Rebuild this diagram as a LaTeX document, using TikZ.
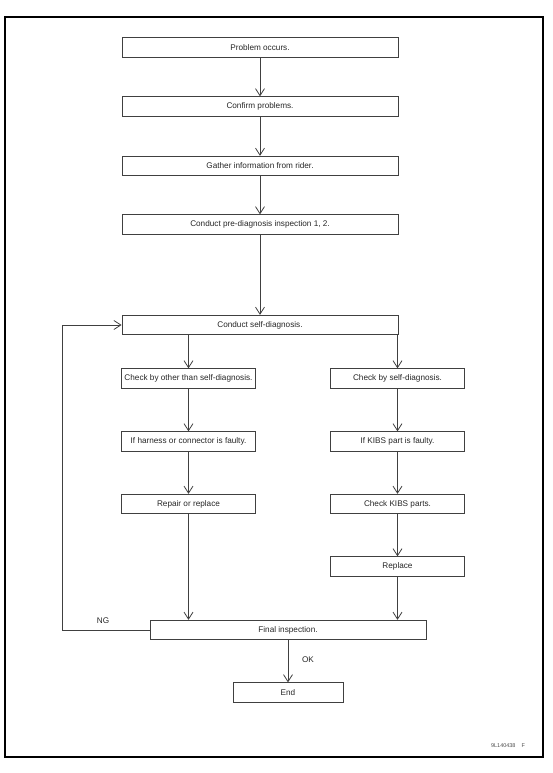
\documentclass[tikz,border=0pt]{standalone}
\usepackage{fontspec}
\setmainfont{Liberation Sans}
\usetikzlibrary{arrows.meta}
\begin{document}
\begin{tikzpicture}[x=1pt,y=-1pt,
  base/.style={draw=black!75,line width=0.8pt,minimum height=19.5pt,inner sep=0pt,font=\fontsize{8.2}{10}\selectfont,text=black!85},
  mainbox/.style={base,minimum width=276pt},
  colbox/.style={base,minimum width=134pt},
  endbox/.style={base,minimum width=110pt},
  flow/.style={draw=black!75,line width=0.8pt,-{Straight Barb[length=7pt,width=9pt,line width=0.8pt]}},
  lbl/.style={font=\fontsize{8.2}{10}\selectfont,text=black!85}]
\useasboundingbox (0,0) rectangle (553,773);
\draw[line width=1.5pt] (5,17) rectangle (543,757);
\node[mainbox] (p1) at (260,47.5) {Problem occurs.};
\node[mainbox] (p2) at (260,106.5) {Confirm problems.};
\node[mainbox] (p3) at (260,166) {Gather information from rider.};
\node[mainbox] (p4) at (260,224.5) {Conduct pre-diagnosis inspection 1, 2.};
\node[mainbox] (p5) at (260,325) {Conduct self-diagnosis.};
\node[colbox] (l1) at (188.5,378.5) {Check by other than self-diagnosis.};
\node[colbox] (l2) at (188.5,441.5) {If harness or connector is faulty.};
\node[colbox] (l3) at (188.5,504) {Repair or replace};
\node[colbox] (r1) at (397.5,378.5) {Check by self-diagnosis.};
\node[colbox] (r2) at (397.5,441.5) {If KIBS part is faulty.};
\node[colbox] (r3) at (397.5,504) {Check KIBS parts.};
\node[colbox] (r4) at (397.5,566.5) {Replace};
\node[mainbox] (fi) at (288,630) {Final inspection.};
\node[endbox] (en) at (288,692.5) {End};
\draw[flow] (p1) -- (p2);
\draw[flow] (p2) -- (p3);
\draw[flow] (p3) -- (p4);
\draw[flow] (p4) -- (p5);
\draw[flow] (p5.south -| l1) -- (l1);
\draw[flow] (p5.south -| r1) -- (r1);
\draw[flow] (l1) -- (l2);
\draw[flow] (l2) -- (l3);
\draw[flow] (l3) -- (l3 |- fi.north);
\draw[flow] (r1) -- (r2);
\draw[flow] (r2) -- (r3);
\draw[flow] (r3) -- (r4);
\draw[flow] (r4) -- (r4 |- fi.north);
\draw[flow] (fi) -- (en);
\node[lbl] (ok) at (308,660) {OK};
\coordinate (lpb) at (62,630);
\coordinate (lpt) at (62,325);
\draw[flow] (fi.west) -- (lpb) -- (lpt) -- (p5.west);
\node[lbl] (ng) at (103,621) {NG};
\node[font=\fontsize{5.5}{6}\selectfont,text=black!70] (code) at (508,746) {9L140438\hspace{6pt}F};
\end{tikzpicture}
\end{document}
